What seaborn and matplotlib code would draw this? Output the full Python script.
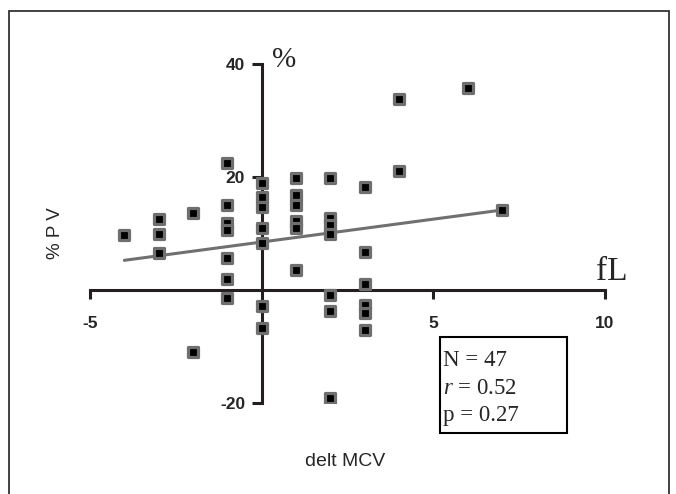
import pandas as pd
import seaborn as sns
import matplotlib.pyplot as plt
from matplotlib.patches import Rectangle

# delta MCV (fL) and % PV
delt_mcv = [-4, -3, -3, -3, -2, -2,
            -1, -1, -1, -1, -1, -1, -1,
            0, 0, 0, 0, 0, 0, 0,
            1, 1, 1, 1, 1, 1,
            2, 2, 2, 2, 2, 2, 2,
            3, 3, 3, 3, 3, 3,
            4, 4, 6, 7]
pct_pv = [9.8, 12.6, 10.0, 6.5, 13.7, -11.0,
          22.5, 15.1, 11.9, 10.7, 5.6, 2.0, -1.5,
          19.0, 16.5, 14.7, 10.9, 8.3, -2.8, -6.7,
          19.9, 16.8, 15.0, 12.2, 11.0, 3.6,
          19.8, 12.7, 11.5, 10.0, -0.8, -3.8, -19.1,
          18.2, 6.8, 1.0, -2.7, -4.1, -7.1,
          33.8, 21.0, 35.7, 14.2]

xticks = [-5, 5, 10]
yticks = [-20, 20, 40]
stats_lines = ["N = 47", "$r$ = 0.52", "p = 0.27"]

df = pd.DataFrame({"delt MCV": delt_mcv, "% PV": pct_pv})

sns.set_style("white")
plt.rcParams['font.family'] = ['Liberation Sans', 'DejaVu Sans']
plt.rcParams['mathtext.fontset'] = 'custom'
plt.rcParams['mathtext.rm'] = 'Liberation Serif'
plt.rcParams['mathtext.it'] = 'Liberation Serif:italic'

fig = plt.figure(figsize=(6.76, 4.94), dpi=100)
ax = fig.add_axes([90 / 676, 1 - 403 / 494, 515 / 676, 339 / 494])

axis_col = "#231f20"
sns.regplot(x="delt MCV", y="% PV", data=df, ax=ax, ci=None,
            marker="s",
            scatter_kws={"s": 62, "color": "black", "edgecolors": "#6f6f6f",
                         "linewidths": 2.3, "alpha": 1, "zorder": 3},
            line_kws={"color": "#707070", "lw": 2.2, "zorder": 2})

ax.set_xlim(-5, 10)
ax.set_ylim(-20, 40)

# axes cross at the origin
ax.spines['left'].set_position(('data', 0))
ax.spines['bottom'].set_position(('data', 0))
ax.spines['right'].set_visible(False)
ax.spines['top'].set_visible(False)
for s in ['left', 'bottom']:
    ax.spines[s].set_color(axis_col)
    ax.spines[s].set_linewidth(2.2)

ax.set_xticks(xticks)
ax.set_yticks(yticks)
ax.set_xticklabels([str(t) for t in xticks], fontweight="bold", fontsize=12.5)
ax.set_yticklabels([str(t) for t in yticks], fontweight="bold", fontsize=12.5)
ax.tick_params(axis="x", direction="out", length=6.5, width=2.2, color=axis_col,
               pad=12, bottom=True)
ax.tick_params(axis="y", direction="out", length=7, width=2.2, color=axis_col,
               pad=5, left=True)
ax.set_xlabel("")
ax.set_ylabel("")

# unit labels at the axis ends
ax.text(0.3, 39.5, "%", family="Liberation Serif", fontsize=21,
        va="baseline", ha="left")
ax.text(9.75, 1.7, "fL", family="Liberation Serif", fontsize=24,
        va="baseline", ha="left")

fig.text(55 / 676, 1 - 233 / 494, "% P V", rotation=90, fontsize=13.5,
         ha="center", va="center")
fig.text(345 / 676, 1 - 461 / 494, "delt MCV", fontsize=14,
         ha="center", va="center")

# stats box
fig.patches.append(Rectangle((440 / 676, 1 - 433 / 494), 127 / 676, 96 / 494,
                             transform=fig.transFigure, fill=False,
                             edgecolor="black", lw=1.5))
for i, line in enumerate(stats_lines):
    fig.text(443 / 676, 1 - (361 + 27 * i) / 494, line,
             family="Liberation Serif", fontsize=16.5, ha="left", va="center")

# outer frame
fig.patches.append(Rectangle((9 / 676, -0.02), 660 / 676, 1 - 11 / 494 + 0.02,
                             transform=fig.transFigure, fill=False,
                             edgecolor="#333333", lw=1.3))

fig.savefig("out.png", dpi=100)
